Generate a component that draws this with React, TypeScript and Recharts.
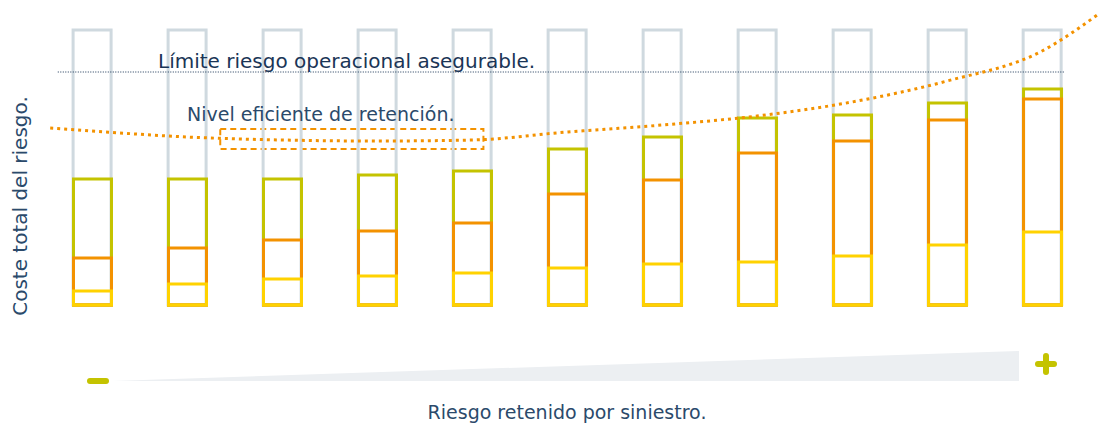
import { ComposedChart, Bar, Line, XAxis, YAxis, ReferenceLine, ReferenceArea } from "recharts";

// column positions (one per retention level)
const positions = [1, 2, 3, 4, 5, 6, 7, 8, 9, 10, 11];
// segment heights, bottom to top
const yellowSeg = [14, 21, 26, 29, 32, 37, 41, 43, 49, 60, 73];
const orangeSeg = [33, 36, 39, 45, 50, 74, 84, 109, 115, 125, 133];
const greenSeg = [79, 69, 61, 56, 52, 45, 43, 35, 26, 17, 10];
const frameHeight = 275;

// total cost curve
const curveX = [0.56, 1, 2, 3, 4, 5, 6, 7, 8, 9, 10, 11, 11.61];
const curveY = [177, 174, 168, 165, 164, 165, 173, 180, 189, 203, 224, 254, 292];

const limitLevel = 233;
const limitFrom = 0.64;
const limitTo = 11.24;
const efficientBox = { x1: 2.35, x2: 5.12, y1: 156, y2: 176 };

// segments are drawn as overlapping bars from zero so the lower segment's edge sits on top
const barRows = positions.map((x, i) => ({
  x,
  frame: frameHeight,
  yellow: yellowSeg[i],
  orange: yellowSeg[i] + orangeSeg[i],
  green: yellowSeg[i] + orangeSeg[i] + greenSeg[i],
}));
const curveRows = curveX.map((x, i) => ({ x, cost: curveY[i] }));

const NAVY = "#1a3556";
const TEXT = "#2b4a6b";
const ORANGE = "#f39200";
const font = '"DejaVu Sans", "Liberation Sans", sans-serif';
const xDomain: [number, number] = [0.558, 11.61];
const axisIds = ["frame", "green", "orange", "yellow"];

export default function App() {
  return (
    <div style={{ position: "absolute", left: 0, top: 0, width: 1105, height: 424, background: "#fff", fontFamily: font, overflow: "hidden" }}>
      <ComposedChart width={1105} height={424} data={barRows} margin={{ top: 5, right: 5, bottom: 119, left: 50 }}>
        {axisIds.map((id) => (
          <XAxis key={id} xAxisId={id} dataKey="x" type="number" domain={xDomain} ticks={positions} hide />
        ))}
        <YAxis domain={[0, 300]} hide />
        <Bar xAxisId="frame" dataKey="frame" barSize={38} fill="none" stroke="#cfd9df" strokeWidth={3} isAnimationActive={false} />
        <Bar xAxisId="green" dataKey="green" barSize={38} fill="none" stroke="#c4c300" strokeWidth={3} isAnimationActive={false} />
        <Bar xAxisId="orange" dataKey="orange" barSize={38} fill="none" stroke="#f39200" strokeWidth={3} isAnimationActive={false} />
        <Bar xAxisId="yellow" dataKey="yellow" barSize={38} fill="none" stroke="#ffd200" strokeWidth={3} isAnimationActive={false} />
        <ReferenceLine
          xAxisId="frame"
          segment={[{ x: limitFrom, y: limitLevel }, { x: limitTo, y: limitLevel }]}
          stroke={NAVY}
          strokeWidth={1.2}
          strokeDasharray="1 1.5"
          ifOverflow="visible"
        />
        <ReferenceArea
          xAxisId="frame"
          x1={efficientBox.x1}
          x2={efficientBox.x2}
          y1={efficientBox.y1}
          y2={efficientBox.y2}
          fill="none"
          fillOpacity={0}
          stroke={ORANGE}
          strokeWidth={2}
          strokeDasharray="6 4"
          ifOverflow="visible"
        />
        <Line
          xAxisId="frame"
          data={curveRows}
          dataKey="cost"
          type="monotone"
          stroke={ORANGE}
          strokeWidth={3}
          strokeDasharray="3 4"
          dot={false}
          activeDot={false}
          isAnimationActive={false}
        />
      </ComposedChart>

      <div style={{ position: "absolute", left: 158, top: 49, fontSize: 20, lineHeight: "24px", color: NAVY, whiteSpace: "nowrap" }}>
        Límite riesgo operacional asegurable.
      </div>
      <div style={{ position: "absolute", left: 187, top: 102, fontSize: 19, lineHeight: "24px", color: TEXT, whiteSpace: "nowrap" }}>
        Nivel eficiente de retención.
      </div>
      <div
        style={{
          position: "absolute",
          left: 20,
          top: 206,
          fontSize: 20,
          color: TEXT,
          whiteSpace: "nowrap",
          transform: "translate(-50%, -50%) rotate(-90deg)",
        }}
      >
        Coste total del riesgo.
      </div>
      <div style={{ position: "absolute", left: 567, top: 400, fontSize: 19, lineHeight: "24px", color: TEXT, whiteSpace: "nowrap", transform: "translateX(-50%)" }}>
        Riesgo retenido por siniestro.
      </div>

      <svg width={1105} height={424} style={{ position: "absolute", left: 0, top: 0, pointerEvents: "none" }}>
        <polygon points="113,381 1019,351 1019,381" fill="#eceff2" />
        <rect x={87} y={378} width={22} height={6} rx={3} fill="#c4c300" />
        <rect x={1035} y={361} width={22} height={6} rx={3} fill="#c4c300" />
        <rect x={1043} y={353} width={6} height={22} rx={3} fill="#c4c300" />
      </svg>
    </div>
  );
}
